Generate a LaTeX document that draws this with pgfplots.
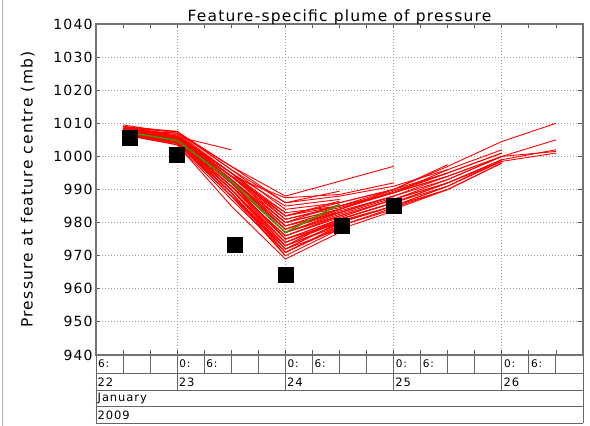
\documentclass[border=0pt]{standalone}
\usepackage{fontspec}
\setmainfont{DejaVu Sans}[LetterSpace=8]
\usepackage{pgfplots}
\pgfplotsset{compat=1.18}
\definecolor{meangreen}{RGB}{60,150,0}
\tikzset{
    member/.style={red, line width=0.9pt},
    rowline/.style={black!60, line width=0.9pt},
    hourlbl/.style={anchor=west, inner sep=0pt, xshift=2pt, font=\fontsize{10.5}{12}\selectfont},
    rowlbl/.style={anchor=west, inner sep=0pt, xshift=1.5pt, font=\fontsize{11.5}{13}\selectfont},
}
\begin{document}
\begin{tikzpicture}
\useasboundingbox (-96pt,-71pt) rectangle (494pt,355pt);
\begin{axis}[
    at={(0pt,0pt)}, anchor=south west,
    scale only axis, width=487pt, height=331pt,
    xmin=22.25, xmax=26.75, ymin=940, ymax=1040,
    ytick={940,950,...,1040},
    xtick={23,24,25,26}, xticklabels={},
    minor xtick={22.5,22.75,23.25,23.5,23.75,24.25,24.5,24.75,25.25,25.5,25.75,26.25,26.5},
    tick align=inside,
    major tick length=4.5pt, minor tick length=4.5pt,
    tick style={black!65, line width=0.8pt},
    grid=major,
    grid style={black!40, line width=0.8pt, dash pattern=on 1pt off 2pt},
    axis line style={black!55, line width=1.2pt},
    clip=false,
    /pgf/number format/assume math mode=true,
    /pgf/number format/1000 sep={},
    yticklabel style={font=\fontsize{14}{16}\selectfont},
    title={Feature-specific plume of pressure},
    title style={font=\fontsize{15.5}{18}\selectfont, at={(axis description cs:0.5,1)}, anchor=base, yshift=-3.5pt},
    ylabel={Pressure at feature centre (mb)},
    ylabel style={font=\fontsize{15.5}{18}\selectfont, at={(axis description cs:-0.14,0.5)}, anchor=center},
]

% ensemble members (run to 26 12Z)
\addplot[member] coordinates {(22.5,1008)(23,1007)(23.5,995)(24,982)(24.5,986)(25,990)(25.5,997)(26,1004.5)(26.5,1010)};
\addplot[member] coordinates {(22.5,1007.5)(23,1005)(23.5,993)(24,978)(24.5,983)(25,988)(25.5,993)(26,1000)(26.5,1005)};
\addplot[member] coordinates {(22.5,1008)(23,1005.5)(23.5,992)(24,975)(24.5,981)(25,986)(25.5,992)(26,999)(26.5,1002)};
\addplot[member] coordinates {(22.5,1007)(23,1004.5)(23.5,990)(24,972)(24.5,980)(25,985)(25.5,991)(26,998.5)(26.5,1001)};
\addplot[member] coordinates {(22.5,1008.5)(23,1006)(23.5,994)(24,980)(24.5,984)(25,989)(25.5,994)(26,1000)(26.5,1001.5)};
% members lost at 26 00Z
\addplot[member] coordinates {(22.5,1009)(23,1007.5)(23.5,996)(24,984)(24.5,986)(25,990)(25.5,995)(26,1001)};
\addplot[member] coordinates {(22.5,1007)(23,1004)(23.5,989)(24,971)(24.5,979)(25,984)(25.5,990)(26,998)};
\addplot[member] coordinates {(22.5,1008)(23,1005)(23.5,991)(24,976)(24.5,982)(25,987)(25.5,993)(26,1000)};
\addplot[member] coordinates {(22.5,1006.5)(23,1004)(23.5,988)(24,973)(24.5,981)(25,986)(25.5,992)(26,999)};
\addplot[member] coordinates {(22.5,1008)(23,1006)(23.5,995)(24,981)(24.5,985)(25,989)(25.5,996)(26,1002)};
\addplot[member] coordinates {(22.5,1009)(23,1006)(23.5,993)(24,979)(24.5,983)(25,988)(25.5,994)(26,1000)};
\addplot[member] coordinates {(22.5,1007.5)(23,1005)(23.5,992)(24,977)(24.5,982)(25,987)(25.5,992)(26,998.5)};
\addplot[member] coordinates {(22.5,1007.5)(23,1004.5)(23.5,991)(24,974)(24.5,980.5)(25,985)(25.5,991)(26,999)};
\addplot[member] coordinates {(22.5,1008.5)(23,1006.5)(23.5,994)(24,981)(24.5,984.5)(25,989)(25.5,995)(26,1001)};
\addplot[member] coordinates {(22.5,1006.5)(23,1003.5)(23.5,987)(24,971)(24.5,979)(25,984.5)(25.5,990)(26,998)};
% members lost at 25 12Z
\addplot[member] coordinates {(22.5,1008)(23,1005.5)(23.5,993)(24,978)(24.5,984)(25,990)(25.5,997.5)};
\addplot[member] coordinates {(22.5,1007)(23,1004.5)(23.5,990)(24,974)(24.5,980)(25,985)(25.5,990)};
\addplot[member] coordinates {(22.5,1008.5)(23,1006)(23.5,995)(24,983)(24.5,985)(25,989)(25.5,994)};
\addplot[member] coordinates {(22.5,1007)(23,1005)(23.5,991)(24,975)(24.5,981)(25,986)(25.5,991)};
\addplot[member] coordinates {(22.5,1009.5)(23,1007)(23.5,997)(24,986)(24.5,988)(25,991)(25.5,996)};
\addplot[member] coordinates {(22.5,1008)(23,1005)(23.5,991)(24,976)(24.5,981.5)(25,987)(25.5,992)};
\addplot[member] coordinates {(22.5,1008)(23,1006)(23.5,994)(24,980)(24.5,984)(25,989.5)(25.5,995)};
% members lost at 25 00Z
\addplot[member] coordinates {(22.5,1008.5)(23,1007.5)(23.5,997)(24,988)(24.5,992.5)(25,997)};
\addplot[member] coordinates {(22.5,1008)(23,1005)(23.5,994)(24,987.5)(24.5,988.5)(25,992)};
\addplot[member] coordinates {(22.5,1007)(23,1004.5)(23.5,990)(24,974)(24.5,981)(25,986)};
\addplot[member] coordinates {(22.5,1008)(23,1005.5)(23.5,992)(24,977)(24.5,983)(25,988)};
\addplot[member] coordinates {(22.5,1006.5)(23,1004)(23.5,989)(24,970)(24.5,978)(25,983.5)};
\addplot[member] coordinates {(22.5,1009)(23,1006)(23.5,994)(24,982)(24.5,985)(25,990)};
\addplot[member] coordinates {(22.5,1008)(23,1006)(23.5,993)(24,978)(24.5,983.5)(25,988)};
\addplot[member] coordinates {(22.5,1007.5)(23,1005.5)(23.5,992)(24,977)(24.5,982.5)(25,987.5)};
\addplot[member] coordinates {(22.5,1007)(23,1004)(23.5,988)(24,972)(24.5,980)(25,985)};
% members lost at 24 12Z
\addplot[member] coordinates {(22.5,1007.5)(23,1005)(23.5,991)(24,976)(24.5,982)};
\addplot[member] coordinates {(22.5,1008)(23,1005.5)(23.5,993)(24,979)(24.5,984)};
\addplot[member] coordinates {(22.5,1007)(23,1004.5)(23.5,989)(24,972)(24.5,978)};
\addplot[member] coordinates {(22.5,1008.5)(23,1006)(23.5,995)(24,985)(24.5,987)};
\addplot[member] coordinates {(22.5,1007)(23,1003.5)(23.5,985)(24,969)(24.5,977)};
\addplot[member] coordinates {(22.5,1008)(23,1005)(23.5,992)(24,975)(24.5,980)};
\addplot[member] coordinates {(22.5,1009)(23,1007.5)(23.5,996)(24,986)(24.5,989.5)};
\addplot[member] coordinates {(22.5,1007.5)(23,1005)(23.5,990)(24,973)(24.5,979)};
\addplot[member] coordinates {(22.5,1008)(23,1005.5)(23.5,993)(24,980)(24.5,985.5)};
\addplot[member] coordinates {(22.5,1007)(23,1004.5)(23.5,989)(24,971)(24.5,978.5)};
\addplot[member] coordinates {(22.5,1007)(23,1005)(23.5,990)(24,973)(24.5,979.5)};
\addplot[member] coordinates {(22.5,1009)(23,1006.5)(23.5,995)(24,982)(24.5,986.5)};
\addplot[member] coordinates {(22.5,1008.5)(23,1005.5)(23.5,993)(24,979)(24.5,983)};
% members lost at 24 00Z and 23 12Z
\addplot[member] coordinates {(22.5,1008)(23,1005)(23.5,992)(24,978)};
\addplot[member] coordinates {(22.5,1007)(23,1004)(23.5,988)(24,970)};
\addplot[member] coordinates {(22.5,1008.5)(23,1006)(23.5,994)(24,983)};
\addplot[member] coordinates {(22.5,1008)(23,1006)(23.5,1002)};

% control / mean track
\addplot[meangreen, line width=1.5pt] coordinates {
    (22.5,1007.5)(23,1004.8)(23.5,992.5)(24,977)(24.5,985.5)};

% analysis values
\addplot[only marks, mark=square*, mark size=7.5pt, black] coordinates {
    (22.56,1005.6)(23,1000.6)(23.53,973.4)(24,964.3)(24.52,979)(25,985)};

% date rows under the axis
\pgfplotsinvokeforeach{22.5,22.75,23.25,23.5,23.75,24.25,24.5,24.75,25.25,25.5,25.75,26.25,26.5}{
    \draw[rowline] (axis cs:#1,940) -- ([yshift=-18pt]axis cs:#1,940);
}
\pgfplotsinvokeforeach{23,24,25,26}{
    \draw[rowline] (axis cs:#1,940) -- ([yshift=-35.5pt]axis cs:#1,940);
    \node[hourlbl] at ([yshift=-8.5pt]axis cs:#1,940) {0:};
}
\pgfplotsinvokeforeach{22.25,23.25,24.25,25.25,26.25}{
    \node[hourlbl] at ([yshift=-8.5pt]axis cs:#1,940) {6:};
}
\pgfplotsinvokeforeach{-18pt,-35.5pt,-51.5pt,-68pt}{
    \draw[rowline] ([yshift=#1]rel axis cs:0,0) -- ([yshift=#1]rel axis cs:1,0);
}
\draw[rowline] (rel axis cs:0,0) -- ([yshift=-68pt]rel axis cs:0,0);
\draw[rowline] (rel axis cs:1,0) -- ([yshift=-68pt]rel axis cs:1,0);
\node[rowlbl] at ([yshift=-27pt]axis cs:22.25,940) {22};
\node[rowlbl] at ([yshift=-27pt]axis cs:23,940) {23};
\node[rowlbl] at ([yshift=-27pt]axis cs:24,940) {24};
\node[rowlbl] at ([yshift=-27pt]axis cs:25,940) {25};
\node[rowlbl] at ([yshift=-27pt]axis cs:26,940) {26};
\node[rowlbl] at ([yshift=-43.5pt]axis cs:22.25,940) {January};
\node[rowlbl] at ([yshift=-60pt]axis cs:22.25,940) {2009};
\end{axis}
\draw[black!30, line width=1pt] (-93pt,-71pt) -- (-93pt,355pt);
\end{tikzpicture}
\end{document}
